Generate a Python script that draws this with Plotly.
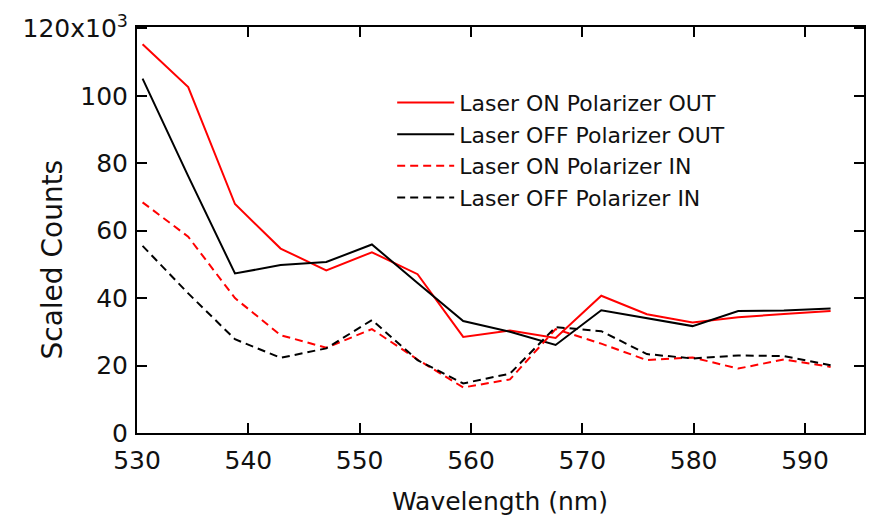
import plotly.graph_objects as go

wavelength = [530.5, 534.6, 538.8, 542.9, 547.0, 551.1, 555.2, 559.3,
              563.5, 567.6, 571.7, 575.8, 579.9, 584.0, 588.1, 592.3]

# Scaled counts in units of 10^3
on_out = [115.3, 102.6, 67.9, 54.7, 48.2, 53.6, 47.1, 28.5,
          30.4, 28.2, 40.7, 35.2, 32.8, 34.3, 35.3, 36.2]
off_out = [105.1, 76.2, 47.3, 49.8, 50.7, 55.9, 44.5, 33.2,
           30.0, 26.1, 36.4, 34.0, 31.7, 36.2, 36.3, 36.9]
on_in = [68.4, 58.2, 40.0, 29.0, 25.3, 30.8, 21.8, 13.5,
         15.9, 30.8, 26.5, 21.6, 22.4, 19.1, 21.8, 19.6]
off_in = [55.5, 41.4, 27.8, 22.3, 25.1, 33.5, 21.6, 14.7,
          17.6, 31.4, 30.2, 23.4, 22.1, 23.0, 22.8, 20.1]

series_names = ["Laser ON Polarizer OUT", "Laser OFF Polarizer OUT",
                "Laser ON Polarizer IN", "Laser OFF Polarizer IN"]

x_ticks = [530, 540, 550, 560, 570, 580, 590]
y_ticks = [0, 20, 40, 60, 80, 100, 120]
y_ticktext = ["0", "20", "40", "60", "80", "100", "120x10<sup>3</sup>"]

FONT = "DejaVu Sans"
RED = "#ff0000"
BLACK = "#000000"

fig = go.Figure()
styles = [(on_out, RED, "solid"), (off_out, BLACK, "solid"),
          (on_in, RED, "8px,5px"), (off_in, BLACK, "8px,5px")]
for name, (vals, col, dash) in zip(series_names, styles):
    fig.add_trace(go.Scatter(x=wavelength, y=vals, mode="lines", name=name,
                             line=dict(color=col, width=2, dash=dash)))

axis_common = dict(showline=True, linecolor="black", linewidth=2,
                   mirror="ticks", ticks="inside", ticklen=10, tickwidth=2,
                   tickcolor="black", showgrid=False, zeroline=False,
                   automargin=False,
                   tickfont=dict(family=FONT, size=25, color="#111111"))

fig.update_xaxes(range=[530, 595.3], tickvals=x_ticks, ticklabelstandoff=4,
                 **axis_common)
fig.update_yaxes(range=[0, 120.4], tickvals=y_ticks, ticktext=y_ticktext,
                 ticklabelstandoff=2, **axis_common)

fig.update_layout(
    width=869, height=517,
    margin=dict(l=137, r=5, t=27, b=84),
    paper_bgcolor="white", plot_bgcolor="white",
    showlegend=True,
    legend=dict(x=0.351, y=0.865, xanchor="left", yanchor="top",
                bgcolor="rgba(0,0,0,0)", itemwidth=57,
                font=dict(family=FONT, size=22, color="#111111")),
    annotations=[
        dict(text="Scaled Counts", xref="paper", yref="paper",
             x=-0.1165, y=0.428, xanchor="center", yanchor="middle",
             textangle=-90, showarrow=False,
             font=dict(family=FONT, size=28, color="#111111")),
        dict(text="Wavelength (nm)", xref="paper", yref="paper",
             x=0.499, y=-0.168, xanchor="center", yanchor="middle",
             showarrow=False,
             font=dict(family=FONT, size=25, color="#111111")),
    ],
)

fig.write_html(
    "out.html",
    config={"displayModeBar": False},
    post_script="document.body.style.margin='0';"
                "document.body.style.overflow='hidden';",
)
